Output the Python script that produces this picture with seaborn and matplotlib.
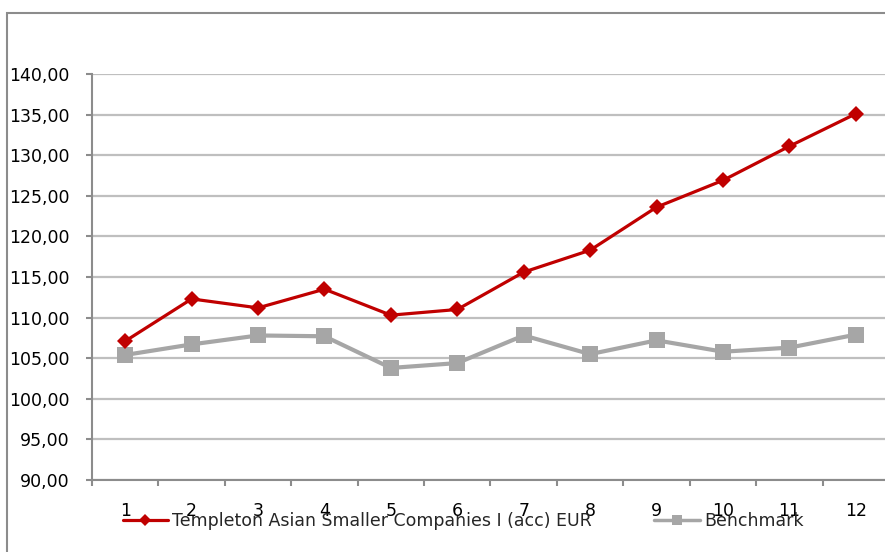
import matplotlib
matplotlib.use("Agg")
import matplotlib.pyplot as plt
import seaborn as sns
import pandas as pd
import numpy as np
from matplotlib.patches import Rectangle
from matplotlib.lines import Line2D
from matplotlib.ticker import FixedLocator, FuncFormatter, NullFormatter

months = list(range(1, 13))
fund_name = "Templeton Asian Smaller Companies I (acc) EUR"
bench_name = "Benchmark"
fund = [107.1, 112.3, 111.2, 113.5, 110.3, 111.0, 115.6, 118.3, 123.6, 126.9, 131.1, 135.1]
bench = [105.4, 106.7, 107.8, 107.7, 103.8, 104.4, 107.8, 105.5, 107.2, 105.8, 106.3, 107.9]
y_ticks = [90, 95, 100, 105, 110, 115, 120, 125, 130, 135, 140]

sns.set_theme(style="white")
plt.rcParams['font.family'] = ['DejaVu Sans']

fig = plt.figure(figsize=(8.85, 5.52), dpi=100)
fig.patch.set_facecolor("white")
fig.patches.append(Rectangle((7/885, -0.2), 1.3, 0.2 + 1 - 13/552, transform=fig.transFigure,
                             fill=False, edgecolor="#8c8c8c", linewidth=1.5, zorder=0))

ax = fig.add_axes([92/885, 72/552, 797/885, 406/552])

df_f = pd.DataFrame({"x": months, "y": fund})
df_b = pd.DataFrame({"x": months, "y": bench})
sns.lineplot(data=df_b, x="x", y="y", ax=ax, color="#a6a6a6", linewidth=3.0,
             marker="s", markersize=11, markeredgewidth=0, zorder=3)
sns.lineplot(data=df_f, x="x", y="y", ax=ax, color="#c00000", linewidth=2.3,
             marker="D", markersize=8.5, markeredgewidth=0, zorder=4)

ax.set_xlim(0.5, 12.5)
ax.set_ylim(90, 140)
ax.set_yticks(y_ticks)
ax.yaxis.set_major_formatter(FuncFormatter(lambda v, p: f"{v:.2f}".replace(".", ",")))
ax.grid(axis="y", color="#bfbfbf", linewidth=1.6)
ax.grid(axis="x", visible=False)
ax.set_axisbelow(True)

ax.xaxis.set_major_locator(FixedLocator(np.arange(0.5, 12.6, 1.0)))
ax.xaxis.set_major_formatter(NullFormatter())
ax.xaxis.set_minor_locator(FixedLocator(months))
ax.xaxis.set_minor_formatter(FuncFormatter(lambda v, p: str(int(round(v)))))
ax.tick_params(axis="x", which="major", length=4, width=1.5, color="#8c8c8c", direction="out", bottom=True)
ax.tick_params(axis="x", which="minor", length=0, pad=16, labelsize=12.5, labelcolor="black", bottom=True)
ax.tick_params(axis="y", which="major", length=4, width=1.5, color="#8c8c8c", direction="out",
               pad=12, labelsize=12.5, labelcolor="black", left=True)
ax.set_xlabel("")
ax.set_ylabel("")

for s in ["top", "right"]:
    ax.spines[s].set_visible(False)
for s in ["left", "bottom"]:
    ax.spines[s].set_color("#8c8c8c")
    ax.spines[s].set_linewidth(1.5)

handles = [Line2D([], [], color="#c00000", linewidth=2.3, marker="D", markersize=6.5, markeredgewidth=0),
           Line2D([], [], color="#a6a6a6", linewidth=2.5, marker="s", markersize=7.5, markeredgewidth=0)]
fig.legend(handles, [fund_name, bench_name], loc="center",
           bbox_to_anchor=(463/885, 1 - 521/552), ncol=2, frameon=False,
           fontsize=12.5, handlelength=2.6, handletextpad=0.25, columnspacing=3.6,
           borderaxespad=0, borderpad=0)

fig.savefig("out.png", dpi=100)
